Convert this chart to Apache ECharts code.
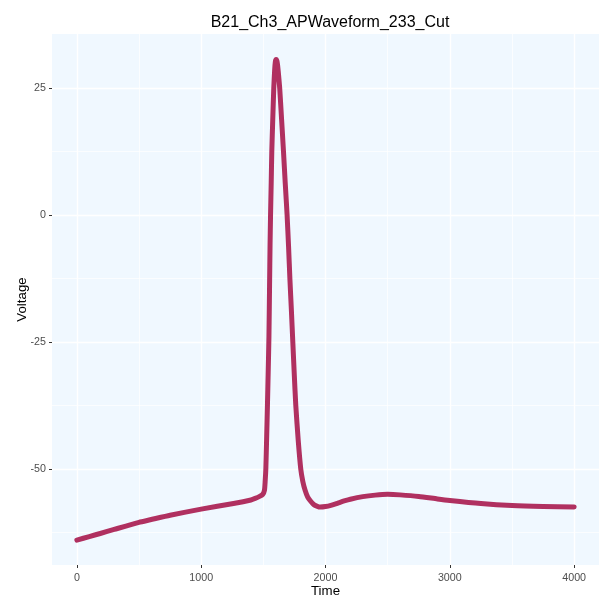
<!DOCTYPE html>
<html>
<head>
<meta charset="utf-8">
<script src="https://cdn.jsdelivr.net/npm/echarts@6/dist/echarts.min.js"></script>
<style>html,body{margin:0;padding:0;background:#fff}#c{width:599px;height:599px}</style>
</head>
<body>
<div id="c"></div>
<script>
const chartTitle = 'B21_Ch3_APWaveform_233_Cut';
const timeValues = [0, 100, 188, 300, 500, 590, 750, 1000, 1260, 1400, 1434, 1470, 1495, 1509, 1515, 1520, 1527, 1533, 1539, 1545, 1550, 1554, 1558, 1563, 1568, 1576, 1584, 1591, 1597, 1603, 1609, 1615, 1623, 1632, 1647, 1662, 1676, 1691, 1703, 1714, 1726, 1737, 1749, 1761, 1781, 1801, 1818, 1836, 1856, 1876, 1905, 1930, 1957, 2000, 2050, 2100, 2150, 2200, 2300, 2400, 2500, 2600, 2750, 2900, 3000, 3250, 3500, 3750, 4000];
const voltageValues = [-64.0, -63.3, -62.7, -61.9, -60.5, -60.0, -59.1, -57.9, -56.8, -56.1, -55.8, -55.4, -55.0, -54.2, -52.3, -50.0, -43.5, -37.5, -31.0, -24.0, -14.0, -6.0, 0.0, 6.0, 12.5, 19.0, 25.0, 28.5, 30.2, 30.6, 30.3, 29.4, 27.4, 24.8, 18.7, 12.5, 6.3, 0.0, -6.3, -12.8, -19.0, -25.0, -31.5, -37.5, -44.5, -50.0, -52.5, -54.2, -55.5, -56.2, -57.0, -57.3, -57.5, -57.4, -57.1, -56.7, -56.3, -55.95, -55.45, -55.15, -55.0, -55.1, -55.4, -55.9, -56.2, -56.8, -57.2, -57.4, -57.5];
const xTicks = [0, 1000, 2000, 3000, 4000];
const xMinor = [500, 1500, 2500, 3500];
const yTicks = [-50, -25, 0, 25];
const yMinor = [-62.5, -37.5, -12.5, 12.5];

const points = timeValues.map((t, i) => [t, voltageValues[i]]);
const font = 'Liberation Sans, Arial, sans-serif';
const plain = v => String(v);
const chart = echarts.init(document.getElementById('c'));
chart.setOption({
  animation: false,
  backgroundColor: '#ffffff',
  title: {
    text: chartTitle, left: 325, top: 10, textAlign: 'center',
    textStyle: { fontSize: 16, fontWeight: 'normal', color: '#000', fontFamily: font }
  },
  grid: { left: 52, right: 0, top: 34, bottom: 34, show: true, backgroundColor: '#F0F8FF', borderWidth: 0, containLabel: false, outerBoundsMode: 'none' },
  xAxis: [{
    type: 'value', min: -200, max: 4200,
    name: 'Time', nameLocation: 'middle', nameGap: 20, nameMoveOverlap: false,
    nameTextStyle: { fontSize: 13.3, color: '#000', fontFamily: font },
    axisLine: { show: false, onZero: false },
    axisTick: { show: true, customValues: xTicks, length: 3, lineStyle: { color: '#333', width: 1 } },
    axisLabel: { customValues: xTicks, color: '#4D4D4D', fontSize: 10.7, margin: 8, fontFamily: font, formatter: plain },
    splitLine: { show: true, lineStyle: { color: '#ffffff', width: 1.4 } }
  }, {
    type: 'value', min: -200, max: 4200, position: 'bottom',
    axisLine: { show: false, onZero: false },
    axisTick: { show: false, customValues: xMinor },
    axisLabel: { show: false, customValues: xMinor },
    splitLine: { show: true, lineStyle: { color: '#ffffff', width: 0.7 } }
  }],
  yAxis: [{
    type: 'value', min: -68.9, max: 35.6,
    name: 'Voltage', nameLocation: 'middle', nameGap: 23, nameRotate: 90, nameMoveOverlap: false,
    nameTextStyle: { fontSize: 13.3, color: '#000', fontFamily: font },
    axisLine: { show: false, onZero: false },
    axisTick: { show: true, customValues: yTicks, length: 3, lineStyle: { color: '#333', width: 1 } },
    axisLabel: { customValues: yTicks, color: '#4D4D4D', fontSize: 10.7, margin: 6, fontFamily: font, formatter: plain },
    splitLine: { show: true, lineStyle: { color: '#ffffff', width: 1.4 } }
  }, {
    type: 'value', min: -68.9, max: 35.6, position: 'left',
    axisLine: { show: false, onZero: false },
    axisTick: { show: false, customValues: yMinor },
    axisLabel: { show: false, customValues: yMinor },
    splitLine: { show: true, lineStyle: { color: '#ffffff', width: 0.7 } }
  }],
  series: [{
    type: 'line', data: points, xAxisIndex: 0, yAxisIndex: 0,
    showSymbol: false, smooth: 0.2,
    lineStyle: { color: '#B03060', width: 5, cap: 'round', join: 'round' },
    z: 5
  }]
});
</script>
</body>
</html>
